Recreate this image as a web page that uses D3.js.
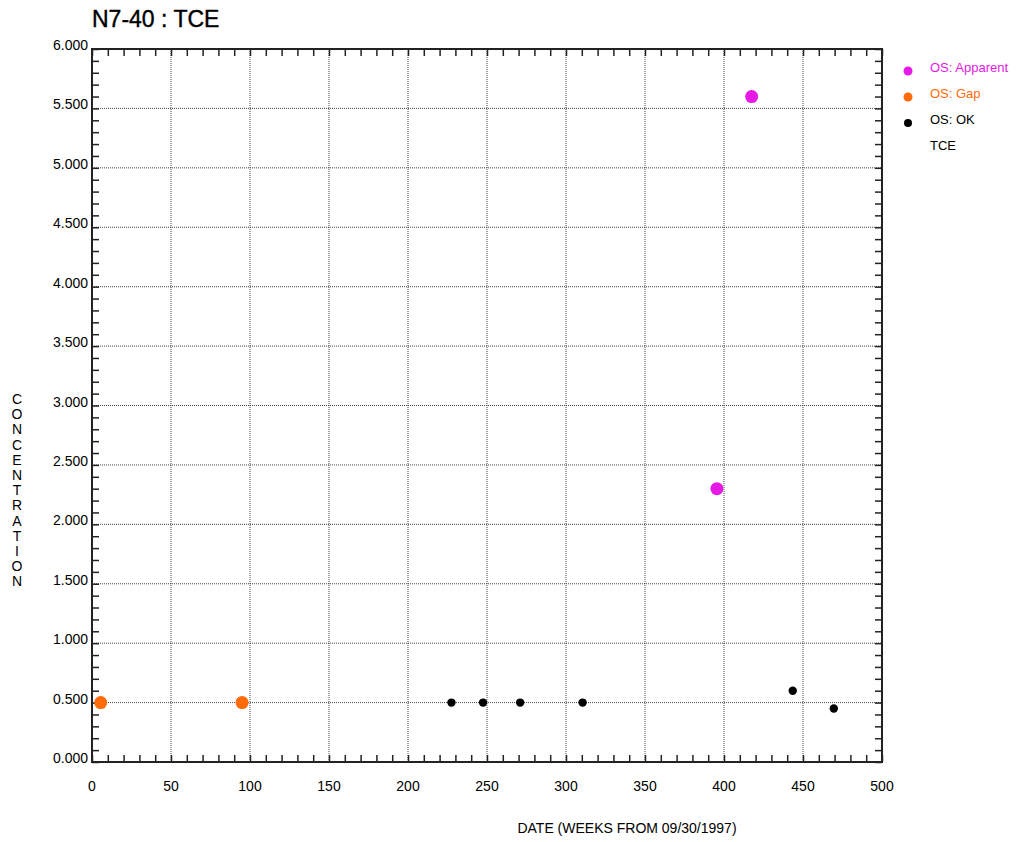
<!DOCTYPE html>
<html>
<head>
<meta charset="utf-8">
<script src="https://cdn.jsdelivr.net/npm/d3@7"></script>
<style>
  html, body { margin: 0; padding: 0; background: #fff; }
  svg { display: block; font-family: Arial, "Liberation Sans", sans-serif; }
</style>
</head>
<body>
<svg id="chart" width="1025" height="842"></svg>
<script>
// ---- data ----
const title = "N7-40 : TCE";
const xTitle = "DATE (WEEKS FROM 09/30/1997)";
const yTitle = "CONCENTRATION";
const xTicks = [0, 50, 100, 150, 200, 250, 300, 350, 400, 450, 500];
const yTicks = [0, 0.5, 1, 1.5, 2, 2.5, 3, 3.5, 4, 4.5, 5, 5.5, 6];
const apparentX = [395.5, 417.5];
const apparentY = [2.3, 5.6];
const gapX = [5.5, 95];
const gapY = [0.5, 0.5];
const okX = [227.5, 247.5, 271, 310.5, 443.5, 469.5];
const okY = [0.5, 0.5, 0.5, 0.5, 0.6, 0.45];
const legendLabels = ["OS: Apparent", "OS: Gap", "OS: OK", "TCE"];
const legendColors = ["#e619e6", "#ff6a0a", "#000000", null];
const legendTextColors = ["#e619e6", "#ff6a0a", "#000000", "#000000"];

// ---- layout ----
const svg = d3.select("#chart");
const L = 92, R = 882, T = 49, B = 762;
const x = d3.scaleLinear().domain([0, 500]).range([L, R]);
const y = d3.scaleLinear().domain([0, 6]).range([B, T]);

// grid
const grid = svg.append("g");
xTicks.slice(1, -1).forEach(v => {
  grid.append("line").attr("x1", x(v)).attr("x2", x(v)).attr("y1", T).attr("y2", B)
    .attr("stroke", "#444").attr("stroke-width", 1).attr("stroke-dasharray", "1,1");
});
yTicks.slice(1, -1).forEach(v => {
  grid.append("line").attr("x1", L).attr("x2", R).attr("y1", y(v)).attr("y2", y(v))
    .attr("stroke", "#444").attr("stroke-width", 1).attr("stroke-dasharray", "1,1");
});

// axes using d3 axis generators (ticks inward)
const minorX = d3.range(0, 501, 10);
const minorY = d3.range(0, 61, 1).map(d => d / 10);
const axStyle = g => {
  g.select(".domain").remove();
  g.selectAll("line").attr("stroke", "#222").attr("stroke-width", 1.5);
};
svg.append("g").attr("transform", `translate(0,${B})`)
  .call(d3.axisTop(x).tickValues(minorX).tickSize(7).tickFormat(""))
  .call(axStyle);
svg.append("g").attr("transform", `translate(0,${T})`)
  .call(d3.axisBottom(x).tickValues(minorX).tickSize(7).tickFormat(""))
  .call(axStyle);
svg.append("g").attr("transform", `translate(${L},0)`)
  .call(d3.axisRight(y).tickValues(minorY).tickSize(7).tickFormat(""))
  .call(axStyle);
svg.append("g").attr("transform", `translate(${R},0)`)
  .call(d3.axisLeft(y).tickValues(minorY).tickSize(7).tickFormat(""))
  .call(axStyle);

// frame
svg.append("rect").attr("x", L).attr("y", T).attr("width", R - L).attr("height", B - T)
  .attr("fill", "none").attr("stroke", "#222").attr("stroke-width", 2);

// tick labels
svg.append("g").selectAll("text").data(xTicks).join("text")
  .attr("x", d => x(d)).attr("y", 791).attr("text-anchor", "middle")
  .attr("font-size", 14).attr("fill", "#000").text(d => d);
svg.append("g").selectAll("text").data(yTicks).join("text")
  .attr("x", 88).attr("y", d => y(d) + 1).attr("text-anchor", "end")
  .attr("font-size", 14).attr("fill", "#000").text(d => d3.format(".3f")(d));

// titles
svg.append("text").attr("x", 92).attr("y", 27).attr("font-size", 23)
  .attr("fill", "#000").attr("stroke", "#000").attr("stroke-width", 0.4).text(title);
svg.append("text").attr("x", 627).attr("y", 833).attr("text-anchor", "middle")
  .attr("font-size", 14).attr("fill", "#000").text(xTitle);
svg.append("g").selectAll("text").data(yTitle.split("")).join("text")
  .attr("x", 17).attr("y", (d, i) => 404 + i * 15.2).attr("text-anchor", "middle")
  .attr("font-size", 14).attr("fill", "#000").text(d => d);

// points
const pts = svg.append("g");
pts.selectAll(".gap").data(gapX.map((d, i) => [d, gapY[i]])).join("circle")
  .attr("cx", d => x(d[0])).attr("cy", d => y(d[1])).attr("r", 6.5).attr("fill", legendColors[1]);
pts.selectAll(".app").data(apparentX.map((d, i) => [d, apparentY[i]])).join("circle")
  .attr("cx", d => x(d[0])).attr("cy", d => y(d[1])).attr("r", 6.5).attr("fill", legendColors[0]);
pts.selectAll(".ok").data(okX.map((d, i) => [d, okY[i]])).join("circle")
  .attr("cx", d => x(d[0])).attr("cy", d => y(d[1])).attr("r", 4.2).attr("fill", legendColors[2]);

// legend
const leg = svg.append("g");
legendLabels.forEach((lab, i) => {
  const by = 72 + i * 26;
  if (legendColors[i]) {
    leg.append("circle").attr("cx", 908).attr("cy", by - 1).attr("r", i === 2 ? 4 : 4.5)
      .attr("fill", legendColors[i]);
  }
  leg.append("text").attr("x", 930).attr("y", by).attr("font-size", 13)
    .attr("fill", legendTextColors[i]).text(lab);
});
</script>
</body>
</html>
